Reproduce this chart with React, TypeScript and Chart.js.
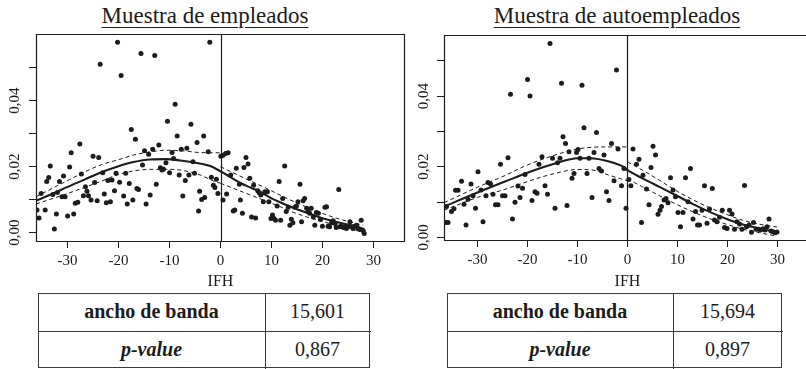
import React, { useEffect, useRef } from 'react';
import { Chart, registerables } from 'chart.js';
Chart.register(...registerables);

// ---------- shared ticks ----------
const X_TICKS = [-30, -20, -10, 0, 10, 20, 30];
const Y_TICKS = [0, 0.01, 0.02, 0.03, 0.04, 0.05];
const Y_TICK_LABELS = ['0,00', '', '0,02', '', '0,04', ''];
const X_TITLE = 'IFH';

// ---------- panel titles & tables ----------
const TITLES = ['Muestra de empleados', 'Muestra de autoempleados'];
const ROW_LABELS = ['ancho de banda', 'p-value'];
const EMP_TABLE = ['15,601', '0,867'];
const AUTO_TABLE = ['15,694', '0,897'];

// ---------- Muestra de empleados ----------
const EMP_X = [
  -36.0, -35.6, -35.2, -34.4, -34.1, -33.7, -33.4, -32.9, -32.6, -32.2,
  -32.0, -31.6, -31.1, -30.8, -30.5, -30.0, -29.6, -29.3, -28.8, -28.5,
  -28.0, -27.6, -27.3, -26.9, -26.5, -26.2, -25.9, -25.4, -25.0, -24.7,
  -24.2, -23.9, -23.6, -23.1, -22.8, -22.4, -22.1, -21.6, -21.3, -20.8,
  -20.5, -20.2, -19.8, -19.5, -19.0, -18.6, -18.3, -17.9, -17.5, -17.2,
  -16.7, -16.4, -16.1, -15.6, -15.3, -14.9, -14.6, -14.1, -13.8, -13.3,
  -12.9, -12.6, -12.1, -11.8, -11.5, -11.2, -10.7, -10.4, -10.0, -9.5,
  -9.2, -8.9, -8.5, -8.1, -7.7, -7.4, -6.9, -6.6, -6.2, -5.8,
  -5.4, -5.1, -4.6, -4.3, -4.1,
  -3.7, -3.3, -3.1, -2.4, -2.1, -1.8, -1.4, -1.1, -0.8, -0.5,
  0.07, 0.5, 0.5, 1.0, 1.2, 1.5, 2.0, 2.5, 2.8, 3.1,
  3.7, 3.9, 4.3, 4.6, 5.0, 5.4, 5.75, 6.1, 6.5, 6.9,
  7.3, 7.6, 7.9, 8.4, 8.7, 9.2, 9.5, 9.9, 10.2, 10.5,
  10.8, 11.1, 11.5, 11.8, 12.2, 12.6, 12.9, 13.3, 13.6, 13.9,
  14.2, 14.6, 14.9, 15.2, 15.6, 15.9, 16.2, 16.5, 16.9, 17.2,
  17.5, 17.8, 18.2, 18.5, 18.8, 19.2, 19.6, 20.0, 20.5, 20.8,
  21.1, 21.4, 21.8, 22.1, 22.5, 22.7, 23.2, 23.4, 23.7, 24.1,
  24.4, 24.7, 25.0, 25.4, 25.7, 26.0, 26.3, 26.7, 27.0, 27.3,
  27.6, 28.0, 28.2,
];
const EMP_Y = [
  0.0069, 0.0045, 0.0119, 0.0069, 0.0155, 0.0167, 0.0202, 0.0116, 0.0011, 0.0057,
  0.0122, 0.0155, 0.0109, 0.0172, 0.0109, 0.0051, 0.0199, 0.0242, 0.0057, 0.0089,
  0.0092, 0.0269, 0.0178, 0.0112, 0.0139, 0.0126, 0.0112, 0.0099, 0.0232, 0.0152,
  0.0097, 0.0228, 0.0510, 0.0182, 0.0117, 0.0091, 0.0158, 0.0094, 0.0160, 0.0127,
  0.0180, 0.0577, 0.0153, 0.0476, 0.0111, 0.0180, 0.0087, 0.0149, 0.0313, 0.0099,
  0.0283, 0.0134, 0.0131, 0.0543, 0.0205, 0.0248, 0.0087, 0.0238, 0.0114, 0.0253,
  0.0537, 0.0147, 0.0266, 0.0197, 0.0190, 0.0192, 0.0212, 0.0338, 0.0182, 0.0243,
  0.0225, 0.0389, 0.0293, 0.0175, 0.0253, 0.0111, 0.0158, 0.0256, 0.0175, 0.0329,
  0.0215, 0.0180, 0.0273, 0.0066, 0.0126,
  0.0101, 0.0293, 0.0107, 0.0245, 0.0577, 0.0168, 0.0144, 0.0137, 0.0162, 0.0119,
  0.0232, 0.0235, 0.0099, 0.0240, 0.0117, 0.0242, 0.0175, 0.0066, 0.0069, 0.0195,
  0.0147, 0.0099, 0.0059, 0.0198, 0.0228, 0.0208, 0.0165, 0.0048, 0.0144, 0.0045,
  0.0127, 0.0121, 0.0114, 0.0094, 0.0124, 0.0124, 0.0094, 0.0043, 0.0054, 0.0043,
  0.0038, 0.0081, 0.0155, 0.0038, 0.0104, 0.0202, 0.0064, 0.0077, 0.0023, 0.0041,
  0.0030, 0.0077, 0.0081, 0.0094, 0.0147, 0.0033, 0.0097, 0.0104, 0.0074, 0.0064,
  0.0059, 0.0074, 0.0048, 0.0023, 0.0061, 0.0059, 0.0040, 0.0020, 0.0077, 0.0079,
  0.0020, 0.0018, 0.0030, 0.0036, 0.0028, 0.0016, 0.0131, 0.0018, 0.0020, 0.0016,
  0.0018, 0.0013, 0.0020, 0.0033, 0.0018, 0.0013, 0.0020, 0.0023, 0.0013, 0.0010,
  0.0038, 0.0006, -0.0002,
];
const EMP_FIT_X = [-36.2, -33, -30, -26.7, -23.6, -20.3, -17.1, -13.8, -10.6, -7.9, -4.1, -2, 0, 2, 4, 6, 8, 10, 12, 14, 17, 20, 23.4, 26.7, 28.2];
const EMP_FIT_Y = [0.0097, 0.0118, 0.0139, 0.0161, 0.0182, 0.0200, 0.0214, 0.0222, 0.0223, 0.0219, 0.0210, 0.0202, 0.0186, 0.0168, 0.0150, 0.0136, 0.0122, 0.0104, 0.0090, 0.0077, 0.0060, 0.0044, 0.0030, 0.0018, 0.0011];
const EMP_UP_L_X = [-36.2, -30, -23.6, -20.3, -17.1, -13.8, -10.6, -7.3, -4.1, 0];
const EMP_UP_L_Y = [0.0109, 0.0158, 0.0205, 0.0220, 0.0235, 0.0245, 0.0250, 0.0248, 0.0243, 0.0242];
const EMP_LO_L_X = [-36.2, -30, -23.6, -20.3, -17.1, -13.8, -10.6, -7.9, -4.0, -1.1, 0];
const EMP_LO_L_Y = [0.0087, 0.0119, 0.0155, 0.0175, 0.0187, 0.0192, 0.0192, 0.0190, 0.0175, 0.0155, 0.0150];
const EMP_UP_R_X = [0, 2, 5, 8.4, 11.7, 13.6, 16.9, 20.1, 23.4, 28.0];
const EMP_UP_R_Y = [0.0200, 0.0185, 0.0163, 0.0139, 0.0114, 0.0100, 0.0078, 0.0058, 0.0041, 0.0023];
const EMP_LO_R_X = [0, 5.1, 8.4, 11.7, 13.6, 16.9, 20.1, 23.4, 28.0];
const EMP_LO_R_Y = [0.0150, 0.0119, 0.0099, 0.0079, 0.0066, 0.0048, 0.0034, 0.0019, 0.0003];

// ---------- Muestra de autoempleados ----------
const AUTO_X = [
  -36.4, -35.9, -36.2, -35.2, -34.7, -34.4, -33.9, -33.2, -32.7, -32.3,
  -31.9, -31.3, -30.9, -30.4, -29.9, -29.3, -28.9, -28.3, -27.9, -27.4,
  -26.9, -26.4, -25.9, -25.4, -25.0, -24.5, -23.9, -23.4, -23.0, -22.5,
  -21.9, -21.5, -21.0, -20.5, -20.0, -19.5, -19.1, -18.5, -18.1, -17.7,
  -17.1, -16.5, -16.0, -15.5, -15.0, -14.5, -14.0, -13.5, -13.2, -12.9,
  -12.4, -12.1, -11.7, -11.1, -10.7, -10.2, -9.9, -9.5, -9.1, -8.7,
  -8.1, -7.7, -7.1, -6.7, -6.2, -5.7, -5.2, -4.7, -4.2, -3.7,
  -3.2, -2.7, -2.2, -1.9,
  -1.2, -0.7, -0.3, 0.27, 0.67, 1.1, 1.8, 2.3, 2.8, 3.1,
  3.8, 4.3, 4.7, 5.1, 5.6, 6.1, 6.5, 6.8, 7.3, 7.7,
  8.1, 8.6, 9.1, 9.6, 10.1, 10.6, 11.1, 11.6, 12.1, 12.6,
  13.1, 13.6, 14.0, 14.4, 14.9, 15.4, 15.9, 16.4, 16.97, 17.4,
  17.9, 18.4, 18.96, 19.4, 19.9, 20.4, 20.9, 21.4, 21.9, 22.4,
  22.9, 23.4, 23.8, 24.3, 24.8, 25.2, 25.7, 26.2, 26.6, 27.1,
  27.5, 27.9, 28.3, 28.7, 29.1, 29.5, 29.9,
];
const AUTO_Y = [
  0.0042, 0.0042, 0.0087, 0.0073, 0.0081, 0.0133, 0.0133, 0.0159, 0.0094, 0.0035,
  0.0108, 0.0151, 0.0118, 0.0082, 0.0186, 0.0134, 0.0044, 0.0118, 0.0155, 0.0151,
  0.0122, 0.0092, 0.0092, 0.0207, 0.0118, 0.0118, 0.0225, 0.0405, 0.0052, 0.0099,
  0.0145, 0.0113, 0.0139, 0.0178, 0.0447, 0.0400, 0.0104, 0.0129, 0.0125, 0.0207,
  0.0228, 0.0146, 0.0122, 0.0549, 0.0224, 0.0082, 0.0211, 0.0224, 0.0436, 0.0285,
  0.0266, 0.0090, 0.0242, 0.0167, 0.0181, 0.0240, 0.0249, 0.0224, 0.0431, 0.0310,
  0.0181, 0.0224, 0.0113, 0.0240, 0.0297, 0.0195, 0.0188, 0.0233, 0.0129, 0.0104,
  0.0266, 0.0160, 0.0474, 0.0250,
  0.0146, 0.0195, 0.0082, 0.0164, 0.0146, 0.0250, 0.0207, 0.0221, 0.0042, 0.0176,
  0.0137, 0.0092, 0.0198, 0.0258, 0.0233, 0.0065, 0.0077, 0.0087, 0.0106, 0.0110,
  0.0098, 0.0169, 0.0134, 0.0115, 0.0070, 0.0030, 0.0070, 0.0169, 0.0101, 0.0195,
  0.0052, 0.0073, 0.0035, 0.0035, 0.0077, 0.0146, 0.0040, 0.0080, 0.0138, 0.0049,
  0.0044, 0.0057, 0.0077, 0.0028, 0.0025, 0.0077, 0.0066, 0.0023, 0.0044, 0.0038,
  0.0023, 0.0147, 0.0030, 0.0035, 0.0014, 0.0042, 0.0023, 0.0023, 0.0021, 0.0024,
  0.0021, 0.0030, 0.0052, 0.0018, 0.0016, 0.0013, 0.0015,
];
const AUTO_FIT_X = [-36.7, -30, -24.5, -20, -14.5, -10, -7.5, -3.5, -0.9, 0, 3, 6.5, 10, 13.1, 16.4, 20, 23.1, 26.4, 29.9];
const AUTO_FIT_Y = [0.0087, 0.0127, 0.0158, 0.0183, 0.0209, 0.0224, 0.0224, 0.0214, 0.0200, 0.0190, 0.0167, 0.0142, 0.0117, 0.0094, 0.0072, 0.0051, 0.0036, 0.0025, 0.0015];
const AUTO_UP_L_X = [-36.7, -30, -24.5, -20, -14.5, -10, -7.2, -4.5, 0];
const AUTO_UP_L_Y = [0.0098, 0.0142, 0.0175, 0.0205, 0.0233, 0.0250, 0.0255, 0.0256, 0.0256];
const AUTO_LO_L_X = [-36.7, -30, -24.5, -20, -14.5, -10, -7.2, -3.5, 0];
const AUTO_LO_L_Y = [0.0077, 0.0113, 0.0136, 0.0158, 0.0181, 0.0192, 0.0191, 0.0175, 0.0160];
const AUTO_UP_R_X = [0, 3, 6, 10, 13, 16.4, 20, 23.1, 26.4, 29.9];
const AUTO_UP_R_Y = [0.0214, 0.0190, 0.0165, 0.0130, 0.0107, 0.0084, 0.0064, 0.0048, 0.0037, 0.0029];
const AUTO_LO_R_X = [0, 3, 6.5, 10, 13.1, 16.4, 20, 23.1, 26.4, 29.9];
const AUTO_LO_R_Y = [0.0165, 0.0143, 0.0117, 0.0092, 0.0072, 0.0053, 0.0036, 0.0023, 0.0013, 0.0003];

const FONT = '"Liberation Serif", "Times New Roman", serif';
const INK = '#1c1c1c';

const zip = (xs: number[], ys: number[]) => xs.map((x, i) => ({ x, y: ys[i] }));

const framePlugin = {
  id: 'frame',
  beforeDatasetsDraw(chart: any, _a: any, opts: any) {
    const { ctx, chartArea: a, scales } = chart;
    const zx = Math.round(scales.x.getPixelForValue(0)) + 0.5;
    ctx.save();
    ctx.strokeStyle = INK;
    ctx.lineWidth = 1.2;
    ctx.beginPath();
    ctx.moveTo(zx, a.top);
    ctx.lineTo(zx, a.bottom);
    ctx.stroke();
    ctx.restore();
  },
  afterDraw(chart: any, _a: any, opts: any) {
    const { ctx, chartArea: a, scales } = chart;
    const L = Math.round(a.left) + 0.5, R = Math.round(a.right) - 0.5;
    const T = Math.round(a.top) + 0.5, B = Math.round(a.bottom) + 0.5;
    ctx.save();
    ctx.strokeStyle = INK;
    ctx.lineWidth = 1.2;
    ctx.beginPath();
    if (opts.boxRight) {
      ctx.moveTo(L, T); ctx.lineTo(R, T); ctx.lineTo(R, B); ctx.lineTo(L, B); ctx.closePath();
    } else {
      ctx.moveTo(R + 2, T); ctx.lineTo(L, T); ctx.lineTo(L, B); ctx.lineTo(R + 2, B);
    }
    ctx.stroke();
    ctx.fillStyle = INK;
    ctx.font = `15px ${FONT}`;
    ctx.textAlign = 'center';
    ctx.textBaseline = 'middle';
    Y_TICKS.forEach((v, i) => {
      const lab = Y_TICK_LABELS[i];
      if (!lab) return;
      const py = scales.y.getPixelForValue(v);
      ctx.save();
      ctx.translate(a.left - opts.yLabelOffset, py);
      ctx.rotate(-Math.PI / 2);
      ctx.fillText(lab, 0, 0);
      ctx.restore();
    });
    ctx.font = `16px ${FONT}`;
    ctx.fillText(X_TITLE, scales.x.getPixelForValue(0), opts.xTitleY);
    ctx.restore();
  },
};

type Cfg = {
  left: number; width: number; height: number;
  axisW: number; padTop: number; padRight: number; axisH: number;
  xMin: number; xMax: number; yMin: number; yMax: number;
  yLabelOffset: number; xTitleY: number; boxRight: boolean;
  px: number[]; py: number[];
  fx: number[]; fy: number[];
  bands: [number[], number[]][];
};

function Panel({ cfg }: { cfg: Cfg }) {
  const ref = useRef<HTMLCanvasElement>(null);
  useEffect(() => {
    const line = (xs: number[], ys: number[], dashed: boolean) => ({
      type: 'line' as const,
      data: zip(xs, ys),
      borderColor: INK,
      borderWidth: dashed ? 1 : 2.1,
      borderDash: dashed ? [4, 3] : [],
      pointRadius: 0,
      fill: false,
      showLine: true,
      cubicInterpolationMode: 'monotone' as const,
    });
    const chart = new Chart(ref.current!, {
      type: 'scatter',
      data: {
        datasets: [
          {
            type: 'scatter',
            data: zip(cfg.px, cfg.py),
            backgroundColor: INK,
            borderWidth: 0,
            pointRadius: 2.5,
          } as any,
          line(cfg.fx, cfg.fy, false),
          ...cfg.bands.map(([xs, ys]) => line(xs, ys, true)),
        ],
      },
      plugins: [framePlugin as any],
      options: {
        animation: false,
        responsive: false,
        events: [],
        layout: { autoPadding: false, padding: { top: cfg.padTop, right: cfg.padRight, left: 0, bottom: 0 } },
        plugins: {
          legend: { display: false },
          tooltip: { enabled: false },
          frame: { yLabelOffset: cfg.yLabelOffset, xTitleY: cfg.xTitleY, boxRight: cfg.boxRight },
        } as any,
        scales: {
          x: {
            type: 'linear',
            min: cfg.xMin,
            max: cfg.xMax,
            afterBuildTicks: (s: any) => { s.ticks = X_TICKS.map((v) => ({ value: v })); },
            afterFit: (s: any) => { s.height = cfg.axisH; },
            ticks: {
              callback: (v: any) => `${v}`,
              color: INK,
              font: { family: FONT, size: 15 },
              padding: 4,
              maxRotation: 0,
              autoSkip: false,
            },
            grid: { drawOnChartArea: false, drawTicks: true, tickLength: 7, color: INK, lineWidth: 1 },
            border: { display: false },
          },
          y: {
            type: 'linear',
            min: cfg.yMin,
            max: cfg.yMax,
            afterBuildTicks: (s: any) => { s.ticks = Y_TICKS.map((v) => ({ value: v })); },
            afterFit: (s: any) => { s.width = cfg.axisW; },
            ticks: { display: false },
            grid: { drawOnChartArea: false, drawTicks: true, tickLength: 7, color: INK, lineWidth: 1 },
            border: { display: false },
          },
        },
      },
    } as any);
    return () => chart.destroy();
  }, []);
  return (
    <canvas
      ref={ref}
      width={cfg.width}
      height={cfg.height}
      style={{ position: 'absolute', left: cfg.left, top: 0, width: cfg.width, height: cfg.height, display: 'block' }}
    />
  );
}

function StatTable({ left, top, w1, w2, h, values }: { left: number; top: number; w1: number; w2: number; h: number; values: string[] }) {
  const border = '1.4px solid #3a3a3a';
  const cell = (x: number, y: number, w: number, text: string, style: React.CSSProperties) => (
    <div
      style={{
        position: 'absolute', left: x, top: y, width: w, height: h,
        display: 'flex', alignItems: 'center', justifyContent: 'center',
        fontFamily: FONT, fontSize: 20, color: INK, ...style,
      }}
    >
      {text}
    </div>
  );
  return (
    <div style={{ position: 'absolute', left, top, width: w1 + w2, height: 2 * h, border, boxSizing: 'border-box' }}>
      <div style={{ position: 'absolute', left: w1 - 1, top: 0, width: 0, height: 2 * h, borderLeft: border }} />
      <div style={{ position: 'absolute', left: 0, top: h - 1, width: w1 + w2, height: 0, borderTop: border }} />
      {cell(-1, -1, w1, ROW_LABELS[0], { fontWeight: 'bold' })}
      {cell(w1 - 1, -1, w2, values[0], {})}
      {cell(-1, h - 1, w1, ROW_LABELS[1], { fontWeight: 'bold', fontStyle: 'italic' })}
      {cell(w1 - 1, h - 1, w2, values[1], {})}
    </div>
  );
}

function Title({ center, text }: { center: number; text: string }) {
  return (
    <div
      style={{
        position: 'absolute', left: center - 200, width: 400, top: 4, textAlign: 'center',
        fontFamily: FONT, fontSize: 23, lineHeight: '23px', color: INK,
        textDecoration: 'underline', textUnderlineOffset: '4px', textDecorationThickness: '1px',
        whiteSpace: 'nowrap',
      }}
    >
      {text}
    </div>
  );
}

const EMP_CFG: Cfg = {
  left: 0, width: 406, height: 292,
  axisW: 36, padTop: 34, padRight: 1, axisH: 51,
  xMin: -36.2, xMax: 36.2, yMin: -0.0025, yMax: 0.0602,
  yLabelOffset: 21, xTitleY: 282, boxRight: true,
  px: EMP_X, py: EMP_Y, fx: EMP_FIT_X, fy: EMP_FIT_Y,
  bands: [[EMP_UP_L_X, EMP_UP_L_Y], [EMP_LO_L_X, EMP_LO_L_Y], [EMP_UP_R_X, EMP_UP_R_Y], [EMP_LO_R_X, EMP_LO_R_Y]],
};

const AUTO_CFG: Cfg = {
  left: 406, width: 400, height: 292,
  axisW: 38, padTop: 35, padRight: 0, axisH: 52,
  xMin: -36.7, xMax: 35.7, yMin: -0.00076, yMax: 0.0573,
  yLabelOffset: 20, xTitleY: 282, boxRight: false,
  px: AUTO_X, py: AUTO_Y, fx: AUTO_FIT_X, fy: AUTO_FIT_Y,
  bands: [[AUTO_UP_L_X, AUTO_UP_L_Y], [AUTO_LO_L_X, AUTO_LO_L_Y], [AUTO_UP_R_X, AUTO_UP_R_Y], [AUTO_LO_R_X, AUTO_LO_R_Y]],
};

export default function App() {
  return (
    <div style={{ position: 'absolute', left: 0, top: 0, width: 806, height: 369, background: '#fff', overflow: 'hidden' }}>
      <Title center={205} text={TITLES[0]} />
      <Title center={617} text={TITLES[1]} />
      <Panel cfg={EMP_CFG} />
      <Panel cfg={AUTO_CFG} />
      <StatTable left={38} top={293} w1={227} w2={105} h={37.5} values={EMP_TABLE} />
      <StatTable left={447} top={293} w1={226} w2={109} h={37.5} values={AUTO_TABLE} />
    </div>
  );
}
